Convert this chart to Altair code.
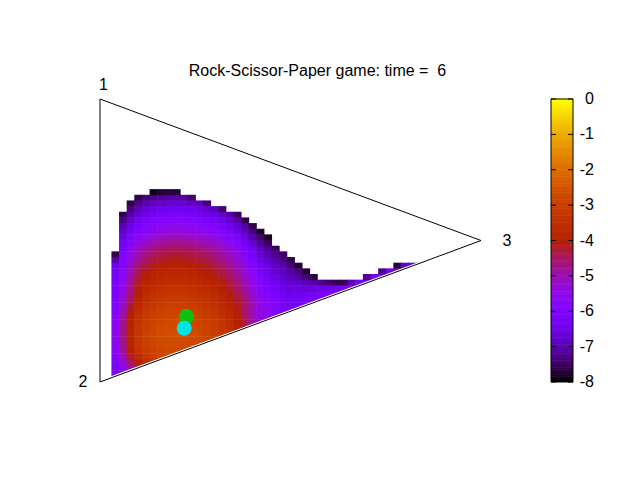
import altair as alt
import pandas as pd

TITLE = "Rock-Scissor-Paper game: time = \u00a06"

# triangle vertices (simplex corners) in plot units
VERTEX_LABELS = ["1", "2", "3"]
VERTEX_X = [0.0, 0.0, 1.0]
VERTEX_Y = [1.0, 0.0, 0.5]
OUTLINE_ORDER = ["1", "3", "2", "1"]
EDGE = ["2", "3"]

# log10 density, cells of GRID_STEP; rows bottom->top, columns from GRID_X0
GRID_X0 = 0.03
GRID_Y0 = 0.0
GRID_STEP = 0.02
ROW_START = [0] * 23 + [1] * 7 + [2, 2, 3, 5]
N = None
ROW_VALUES = [
    [-6.3],
    [-6.3, -5.8, -5.3],
    [-6.2, -5.6, -5.0, -4.4, -4.0],
    [-6.1, -5.3, -4.5, -3.9, -3.5, -3.2, -3.05],
    [-5.95, -5.0, -4.2, -3.6, -3.25, -3.0, -2.92, -2.88, -2.85],
    [-5.8, -4.85, -3.95, -3.35, -3.05, -2.93, -2.85, -2.8, -2.78, -2.8, -2.85],
    [-5.65, -4.75, -3.85, -3.25, -2.98, -2.84, -2.75, -2.69, -2.67, -2.7, -2.76, -2.84, -2.95],
    [-5.6, -4.7, -3.8, -3.22, -2.95, -2.8, -2.7, -2.64, -2.62, -2.65, -2.71, -2.79, -2.9, -3.04, -3.22],
    [-5.6, -4.7, -3.8, -3.2, -2.94, -2.79, -2.68, -2.62, -2.6, -2.63, -2.69, -2.77, -2.88, -3.02, -3.2,
     -3.45, -3.75],
    [-5.65, -4.75, -3.85, -3.25, -2.98, -2.83, -2.72, -2.66, -2.64, -2.67, -2.73, -2.81, -2.92, -3.06,
     -3.24, -3.5, -3.89, -4.34, -4.84],
    [-5.7, -4.8, -3.9, -3.32, -3.04, -2.89, -2.78, -2.72, -2.7, -2.73, -2.79, -2.87, -2.98, -3.12, -3.3,
     -3.57, -3.95, -4.4, -4.9, -5.3, -5.6],
    [-5.8, -4.9, -4.0, -3.42, -3.12, -2.96, -2.85, -2.79, -2.77, -2.8, -2.86, -2.94, -3.05, -3.19, -3.37,
     -3.64, -4.02, -4.47, -4.97, -5.37, -5.67, -5.87, -6.07],
    [-5.9, -5.0, -4.15, -3.55, -3.24, -3.07, -2.96, -2.9, -2.87, -2.9, -2.96, -3.04, -3.15, -3.29, -3.47,
     -3.74, -4.1, -4.55, -5.05, -5.45, -5.75, -5.97, -6.17, -6.3, -6.25],
    [-6.0, -5.15, -4.3, -3.7, -3.36, -3.18, -3.07, -3.01, -2.98, -3.01, -3.07, -3.15, -3.26, -3.4, -3.58,
     -3.83, -4.13, -4.53, -4.98, -5.38, -5.68, -5.93, -6.13, -6.32, -6.26, -6.2, -6.1],
    [-6.05, -5.25, -4.45, -3.82, -3.47, -3.28, -3.17, -3.11, -3.08, -3.11, -3.17, -3.25, -3.36, -3.5, -3.68,
     -3.93, -4.23, -4.63, -5.08, -5.48, -5.78, -6.03, -6.23, -6.37, -6.31, -6.25, -6.12, -6.0, -6.0],
    [-6.1, -5.35, -4.6, -3.98, -3.62, -3.42, -3.31, -3.25, -3.22, -3.25, -3.31, -3.39, -3.5, -3.64, -3.82,
     -4.07, -4.37, -4.77, -5.22, -5.62, -5.92, -6.17, -6.37, -6.46, -6.43, -6.4, -6.28, -6.14, -6.06,
     -6.0, -6.0],
    [-6.15, -5.45, -4.7, -4.08, -3.73, -3.55, -3.44, -3.38, -3.35, -3.38, -3.44, -3.52, -3.63, -3.77, -3.95,
     -4.2, -4.5, -4.9, -5.35, -5.75, -6.05, -6.3, -6.5, -6.59, -6.6, -6.63, -6.59, -6.56, -6.5, -6.39,
     -6.17, -6.0, -6.0],
    [-6.2, -5.55, -4.8, -4.2, -3.86, -3.68, -3.57, -3.51, -3.48, -3.51, -3.57, -3.65, -3.76, -3.9, -4.08,
     -4.33, -4.63, -5.03, -5.48, -5.88, -6.18, -6.43, -6.63, -6.76, -6.83, -6.97, -7.07, -7.24, -7.38,
     -7.58, -7.55, -6.9, -6.26, -6.0, -6.0],
    [-6.25, -5.65, -4.9, -4.32, -4.0, -3.82, -3.71, -3.65, -3.62, -3.65, -3.71, -3.79, -3.9, -4.04, -4.22,
     -4.47, -4.77, -5.17, -5.62, -6.02, -6.32, -6.57, -6.77, -6.95, -7.11, -7.37, -7.65,
     N, N, N, N, N, N, -7.19, -6.29, -6.0, -6.0],
    [-6.3, -5.75, -5.0, -4.45, -4.13, -3.95, -3.84, -3.78, -3.75, -3.78, -3.84, -3.92, -4.03, -4.17, -4.35,
     -4.6, -4.9, -5.3, -5.75, -6.15, -6.45, -6.7, -6.9, -7.1, -7.3, -7.7,
     N, N, N, N, N, N, N, N, N, -7.28, -6.37, -6.1, -6.3],
    [-6.4, -5.85, -5.15, -4.6, -4.3, -4.1, -4.0, -3.93, -3.9, -3.93, -3.99, -4.07, -4.18, -4.32, -4.5,
     -4.75, -5.05, -5.45, -5.9, -6.3, -6.6, -6.85, -7.05, -7.3, -7.7,
     N, N, N, N, N, N, N, N, N, N, N, N, -7.68, -6.73, -6.7],
    [-7.0, -5.85, -5.3, -4.85, -4.52, -4.31, -4.18, -4.11, -4.07, -4.1, -4.16, -4.24, -4.35, -4.49, -4.67,
     -4.92, -5.22, -5.62, -6.07, -6.47, -6.77, -7.02, -7.22, -7.6],
    [-7.6, -6.0, -5.45, -5.02, -4.7, -4.5, -4.38, -4.31, -4.27, -4.3, -4.36, -4.44, -4.55, -4.69, -4.87,
     -5.12, -5.42, -5.82, -6.27, -6.67, -6.97, -7.22, -7.5],
    [-6.2, -5.6, -5.2, -4.9, -4.7, -4.58, -4.51, -4.47, -4.5, -4.56, -4.64, -4.75, -4.89, -5.07, -5.32,
     -5.62, -6.02, -6.47, -6.87, -7.17, -7.5],
    [-6.4, -5.85, -5.45, -5.15, -4.95, -4.83, -4.76, -4.73, -4.76, -4.82, -4.9, -5.01, -5.15, -5.33, -5.58,
     -5.88, -6.28, -6.73, -7.13, -7.5],
    [-6.6, -6.1, -5.7, -5.42, -5.22, -5.1, -5.03, -5.0, -5.03, -5.09, -5.17, -5.28, -5.42, -5.6, -5.85,
     -6.15, -6.55, -7.0, -7.4, -7.8],
    [-6.8, -6.35, -5.95, -5.7, -5.5, -5.39, -5.32, -5.3, -5.33, -5.39, -5.47, -5.58, -5.72, -5.9, -6.15,
     -6.45, -6.85, -7.3, -7.75],
    [-7.0, -6.5, -6.15, -5.9, -5.72, -5.63, -5.57, -5.55, -5.58, -5.64, -5.72, -5.83, -5.97, -6.15, -6.4,
     -6.7, -7.1, -7.6],
    [-7.3, -6.8, -6.42, -6.18, -6.01, -5.92, -5.87, -5.85, -5.88, -5.94, -6.02, -6.13, -6.27, -6.45, -6.7,
     -7.05, -7.6],
    [-7.6, -7.05, -6.68, -6.45, -6.29, -6.2, -6.15, -6.13, -6.16, -6.22, -6.3, -6.41, -6.55, -6.75, -7.05,
     -7.5],
    [-7.3, -6.95, -6.72, -6.56, -6.47, -6.42, -6.4, -6.43, -6.49, -6.57, -6.7, -6.9, -7.4],
    [-7.6, -7.2, -6.97, -6.82, -6.73, -6.68, -6.65, -6.68, -6.75, -6.9, -7.3],
    [-7.6, -7.35, -7.2, -7.12, -7.07, -7.05, -7.1, -7.4],
    [-7.85, -7.7, -7.65, -7.7],
]

# the two markers
DOT_NAMES = ["green", "cyan"]
DOT_X = [0.227, 0.221]
DOT_Y = [0.231, 0.190]
DOT_COLORS = ["#10c010", "#00e6e6"]

# colour bar
CB_MIN, CB_MAX = -8, 0
CB_TICKS = [-8, -7, -6, -5, -4, -3, -2, -1, 0]
CB_LABELS = ["-8", "-7", "-6", "-5", "-4", "-3", "-2", "-1", "0"]
CB_BAND = 0.05   # height (in colour units) of each slice used to paint the bar
PAL_DOMAIN = [-8, -7.5, -7, -6.5, -6, -5.5, -5, -4.5, -4, -3.5, -3, -2.5, -2, -1.5, -1, -0.5, 0]
PAL_COLORS = ["#000000", "#400062", "#5a00b4", "#6e02ec", "#8004ff", "#8f08ec", "#9c0db4",
              "#a91562", "#b42000", "#bf2d00", "#ca3e00", "#d35300", "#dd6c00", "#e68900",
              "#eeab00", "#f7d200", "#ffff00"]

FONT = "Liberation Sans"
FS = 16

# ---- tables ----
OVERLAP = GRID_STEP * 0.08   # tiny overlap so adjacent cells leave no hairline seams
cells = []
for j, (s, vals) in enumerate(zip(ROW_START, ROW_VALUES)):
    for k, v in enumerate(vals):
        if v is None:
            continue
        i = s + k
        x0 = GRID_X0 + i * GRID_STEP
        y0 = GRID_Y0 + j * GRID_STEP
        cells.append({"x0": x0, "x1": x0 + GRID_STEP + OVERLAP,
                      "y0": y0, "y1": y0 + GRID_STEP + OVERLAP, "v": v})
cells = pd.DataFrame(cells)

vert = pd.DataFrame({"label": VERTEX_LABELS, "x": VERTEX_X, "y": VERTEX_Y})
lookup = {l: (x, y) for l, x, y in zip(VERTEX_LABELS, VERTEX_X, VERTEX_Y)}
outline = pd.DataFrame({"o": list(range(len(OUTLINE_ORDER))),
                        "x": [lookup[l][0] for l in OUTLINE_ORDER],
                        "y": [lookup[l][1] for l in OUTLINE_ORDER]})
edge = pd.DataFrame({"x": [lookup[l][0] for l in EDGE], "y": [lookup[l][1] for l in EDGE]})
dots = pd.DataFrame({"name": DOT_NAMES, "x": DOT_X, "y": DOT_Y})
cbt = pd.DataFrame({"v": CB_TICKS, "lab": CB_LABELS})
nband = int(round((CB_MAX - CB_MIN) / CB_BAND))
bar = pd.DataFrame({"v": [CB_MIN + (k + 0.5) * CB_BAND for k in range(nband)],
                    "a": [CB_MIN + k * CB_BAND for k in range(nband)]})
frame = pd.DataFrame({"a": [CB_MIN], "b": [CB_MAX]})
title_df = pd.DataFrame({"t": [TITLE]})

xs = alt.Scale(domain=[0, 1], nice=False, zero=False)
ys = alt.Scale(domain=[0, 1], nice=False, zero=False)
cscale = alt.Scale(domain=PAL_DOMAIN, range=PAL_COLORS, interpolate="rgb")
SPAN = f"({CB_MAX} - ({CB_MIN}))"

heat = alt.Chart(cells).mark_rect(strokeWidth=0).encode(
    x=alt.X("x0:Q", scale=xs, axis=None),
    x2="x1:Q",
    y=alt.Y("y0:Q", scale=ys, axis=None),
    y2="y1:Q",
    fill=alt.Fill("v:Q", scale=cscale, legend=None),
)

mask = alt.Chart(edge).mark_area(color="white", opacity=1).encode(
    x=alt.X("x:Q", scale=xs, axis=None), y=alt.Y("y:Q", scale=ys, axis=None), y2=alt.datum(-0.05))

gap = alt.Chart(edge).mark_line(color="white", strokeWidth=3).encode(
    x=alt.X("x:Q", scale=xs, axis=None), y=alt.Y("y:Q", scale=ys, axis=None))

tri = alt.Chart(outline).mark_line(color="black", strokeWidth=1).encode(
    x=alt.X("x:Q", scale=xs, axis=None), y=alt.Y("y:Q", scale=ys, axis=None), order="o:Q")

# colour bar, painted as thin slices through the same colour scale
cb_bar = alt.Chart(bar).transform_calculate(
    y0=f"(datum.a - ({CB_MIN})) / {SPAN}",
    y1=f"(datum.a + {CB_BAND * 1.3} - ({CB_MIN})) / {SPAN}",
).mark_rect(strokeWidth=0).encode(
    x=alt.value(451), x2=alt.value(473),
    y=alt.Y("y0:Q", scale=ys, axis=None), y2="y1:Q",
    fill=alt.Fill("v:Q", scale=cscale, legend=None))
cb_frame = alt.Chart(frame).transform_calculate(
    y0=f"(datum.a - ({CB_MIN})) / {SPAN}", y1=f"(datum.b - ({CB_MIN})) / {SPAN}"
).mark_rect(fill=None, stroke="black", strokeWidth=1).encode(
    x=alt.value(451), x2=alt.value(473), y=alt.Y("y0:Q", scale=ys, axis=None), y2="y1:Q")
cb_pos = alt.Chart(cbt).transform_calculate(yy=f"(datum.v - ({CB_MIN})) / {SPAN}")
cb_ticks_l = cb_pos.mark_rule(color="black", strokeWidth=1).encode(
    x=alt.value(451), x2=alt.value(456), y=alt.Y("yy:Q", scale=ys, axis=None))
cb_ticks_r = cb_pos.mark_rule(color="black", strokeWidth=1).encode(
    x=alt.value(468), x2=alt.value(473), y=alt.Y("yy:Q", scale=ys, axis=None))
cb_labels = cb_pos.mark_text(font=FONT, fontSize=FS, color="black", align="right",
                             baseline="middle").encode(
    x=alt.value(494), y=alt.Y("yy:Q", scale=ys, axis=None), text="lab:N")

def vlabel(name, dx, dy):
    return alt.Chart(vert).transform_filter(alt.datum.label == name).mark_text(
        font=FONT, fontSize=FS, color="black", align="center", baseline="middle",
        dx=dx, dy=dy).encode(x=alt.X("x:Q", scale=xs, axis=None),
                             y=alt.Y("y:Q", scale=ys, axis=None), text="label:N")

title_layer = alt.Chart(title_df).mark_text(
    font=FONT, fontSize=FS, color="black", align="center", baseline="alphabetic").encode(
    x=alt.value(217.5), y=alt.value(-23), text="t:N")

dot_layer = alt.Chart(dots).mark_circle(size=227, opacity=1).encode(
    x=alt.X("x:Q", scale=xs, axis=None), y=alt.Y("y:Q", scale=ys, axis=None),
    color=alt.Color("name:N", scale=alt.Scale(domain=DOT_NAMES, range=DOT_COLORS), legend=None))

chart = alt.layer(
    heat, mask, gap, tri, cb_bar, cb_frame, cb_ticks_l, cb_ticks_r, cb_labels,
    vlabel("1", 3.5, -14.5), vlabel("2", -17, 0), vlabel("3", 26, 0), title_layer, dot_layer
).properties(
    width=381, height=283,
    autosize=alt.AutoSizeParams(type="none"),
    padding={"left": 92, "top": 91, "right": 151, "bottom": 90},
    view=alt.ViewBackground(stroke="transparent", strokeWidth=0),
).configure_view(stroke="transparent", strokeWidth=0).configure(background="white")

chart.save("out.html", embed_options={"renderer": "svg", "actions": False})
